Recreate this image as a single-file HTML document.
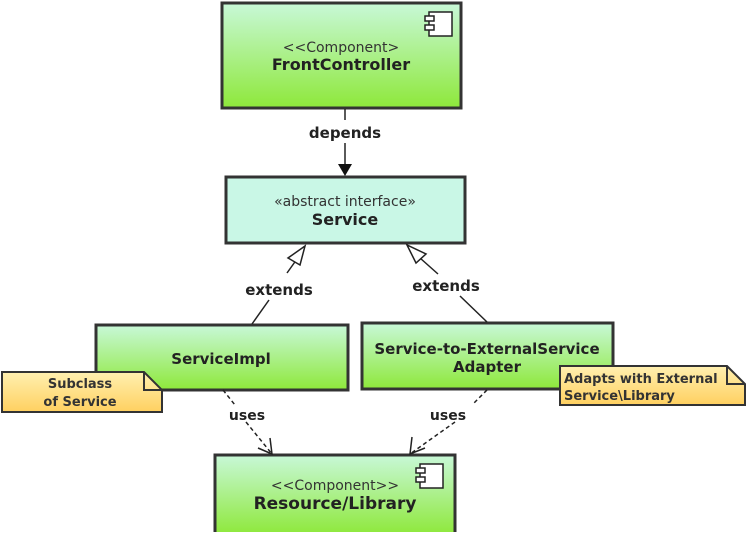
<!DOCTYPE html>
<html><head><style>
body{margin:0;width:747px;height:532px;background:#fff;overflow:hidden;font-family:"DejaVu Sans","Liberation Sans",sans-serif;}
</style></head><body>
<svg width="747" height="532" xmlns="http://www.w3.org/2000/svg">
<defs>
<linearGradient id="g" x1="0" y1="0" x2="0" y2="1"><stop offset="0" stop-color="#c8f8d8"/><stop offset="1" stop-color="#8ee83a"/></linearGradient>
<linearGradient id="n" x1="0" y1="0" x2="0" y2="1"><stop offset="0" stop-color="#fff0b0"/><stop offset="1" stop-color="#ffd060"/></linearGradient>
</defs>
<g stroke="#333" stroke-width="3">
<rect x="222" y="3" width="239" height="105" fill="url(#g)"/>
<rect x="226" y="177" width="239" height="66" fill="#c9f7e6"/>
<rect x="96" y="325" width="252" height="65" fill="url(#g)"/>
<rect x="362" y="323" width="251" height="66" fill="url(#g)"/>
<rect x="215" y="455" width="240" height="80" fill="url(#g)"/>
</g>
<g fill="#fff" stroke="#222" stroke-width="1.5">
<rect x="429" y="12" width="23" height="24"/><rect x="425" y="16" width="9" height="5"/><rect x="425" y="25" width="9" height="5"/>
<rect x="420" y="464" width="23" height="24"/><rect x="416" y="468" width="9" height="5"/><rect x="416" y="477" width="9" height="5"/>
</g>
<g stroke="#333" stroke-width="2" fill="url(#n)">
<path d="M2 372 H144 L162 390 V412 H2 Z"/><path d="M144 372 V390 H162" fill="none"/>
<path d="M560 366 H727 L745 384 V405 H560 Z"/><path d="M727 366 V384 H745" fill="none"/>
</g>
<g stroke="#222" stroke-width="1.5" fill="none">
<line x1="345" y1="109" x2="345" y2="120"/><line x1="345" y1="143" x2="345" y2="166"/>
<line x1="252" y1="324" x2="269" y2="300"/><line x1="287" y1="273" x2="297" y2="259"/>
<line x1="487" y1="322" x2="460" y2="296"/><line x1="438" y1="274" x2="420" y2="258"/>
<path d="M305 246 L288 258 L300 265 Z" fill="#fff"/>
<path d="M407 245 L416 263 L426 254 Z" fill="#fff"/>
<g stroke-dasharray="4,3"><line x1="223" y1="390" x2="235" y2="405"/><line x1="246" y1="422" x2="272" y2="454"/>
<line x1="487" y1="390" x2="474" y2="403"/><line x1="455" y1="422" x2="410" y2="454"/></g>
<path d="M258 448 L272 454 L270 438"/><path d="M412 437 L410 454 L425 448"/>
</g>
<path d="M338 164 L352 164 L345 176 Z" fill="#111"/>
<g font-size="14" fill="#333" text-anchor="middle">
<text x="341" y="52">&lt;&lt;Component&gt;</text>
<text x="345" y="206">«abstract interface»</text>
<text x="335" y="490">&lt;&lt;Component&gt;&gt;</text>
</g>
<g font-size="16" font-weight="bold" fill="#222" text-anchor="middle">
<text x="341" y="70">FrontController</text>
<text x="345" y="225">Service</text>
<text x="221" y="364" font-size="15">ServiceImpl</text>
<text x="487" y="354" font-size="15">Service-to-ExternalService</text>
<text x="487" y="372" font-size="15">Adapter</text>
<text x="335" y="509" font-size="17">Resource/Library</text>
<text x="345" y="138" font-size="15">depends</text>
<text x="279" y="295" font-size="15">extends</text>
<text x="446" y="291" font-size="15">extends</text>
<text x="247" y="420" font-size="14">uses</text>
<text x="448" y="420" font-size="14">uses</text>
</g>
<g font-size="13" font-weight="bold" fill="#333">
<text x="80" y="388" text-anchor="middle">Subclass</text>
<text x="80" y="406" text-anchor="middle">of Service</text>
<text x="564" y="383">Adapts with External</text>
<text x="564" y="400">Service\Library</text>
</g>
</svg>
</body></html>
